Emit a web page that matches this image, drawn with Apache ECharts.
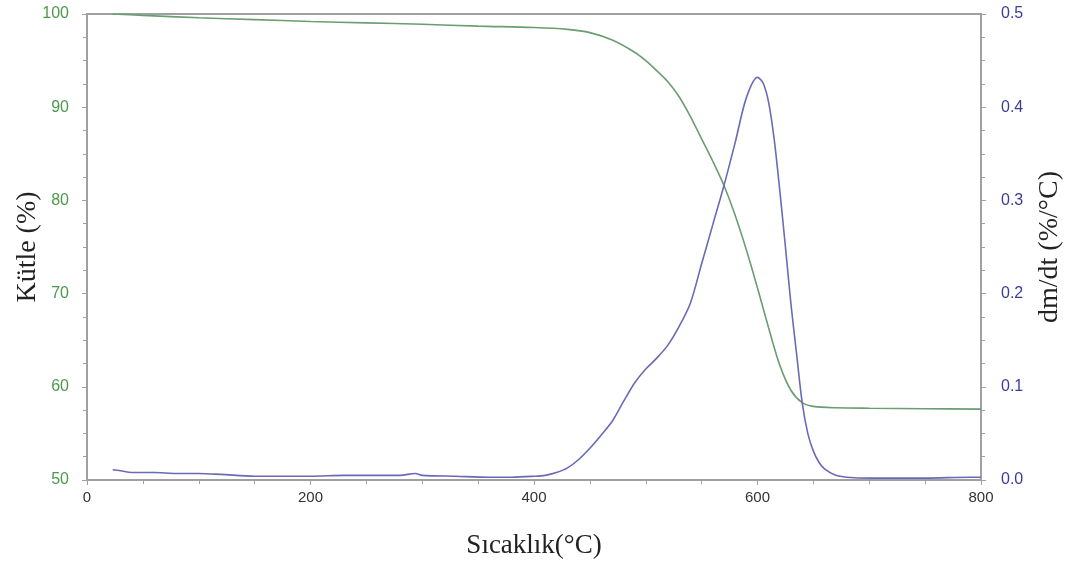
<!DOCTYPE html>
<html>
<head>
<meta charset="utf-8">
<script src="https://cdn.jsdelivr.net/npm/echarts@6/dist/echarts.min.js"></script>
<style>html,body{margin:0;padding:0;background:#fff}#c{width:1075px;height:562px}</style>
</head>
<body>
<div id="c"></div>
<script>
// Temperature (°C) and mass (%) for the TG curve
const massT = [23,50,100,150,200,250,300,350,400,430,450,470,490,500,510,520,530,540,550,560,570,580,590,600,610,620,630,640,650,670,700,750,800];
const massV = [100.0,99.85,99.6,99.4,99.2,99.05,98.9,98.7,98.55,98.35,98.0,97.2,95.9,95.0,93.9,92.7,91.1,89.0,86.6,84.2,81.6,78.4,74.7,70.6,66.3,62.3,59.6,58.3,57.9,57.75,57.7,57.65,57.6];
// Temperature (°C) and dm/dt (%/°C) for the DTG curve
const dtgT = [23,30,40,60,80,100,120,150,180,200,230,260,280,294,300,330,360,380,400,410,420,430,440,450,460,470,480,490,500,510,520,530,540,550,560,570,580,590,600,605,610,615,620,625,630,635,640,645,650,655,660,670,680,700,750,790,800];
const dtgV = [0.011,0.010,0.008,0.008,0.007,0.007,0.006,0.004,0.004,0.004,0.005,0.005,0.005,0.007,0.005,0.004,0.003,0.003,0.004,0.005,0.008,0.013,0.022,0.034,0.048,0.063,0.084,0.104,0.119,0.131,0.145,0.165,0.19,0.232,0.274,0.316,0.362,0.41,0.432,0.426,0.405,0.365,0.31,0.25,0.188,0.135,0.083,0.05,0.031,0.019,0.012,0.005,0.003,0.002,0.002,0.003,0.003];

const xLabel = 'Sıcaklık(°C)';
const yLeftLabel = 'Kütle (%)';
const yRightLabel = 'dm/dt (%/°C)';

const axisGray = '#a0a0a0';
const chart = echarts.init(document.getElementById('c'), null, {renderer: 'canvas'});
chart.setOption({
  animation: false,
  backgroundColor: '#fff',
  grid: {left: 87, right: 94, top: 14, bottom: 82, outerBoundsMode: 'none', containLabel: false,
    show: true, borderColor: axisGray, borderWidth: 2, backgroundColor: 'transparent'},
  xAxis: {
    type: 'value', min: 0, max: 800, interval: 200,
    name: xLabel, nameLocation: 'middle', nameGap: 52,
    nameTextStyle: {fontFamily: 'Liberation Serif', fontSize: 27, color: '#222'},
    axisLine: {lineStyle: {color: axisGray, width: 2}},
    axisTick: {show: true, length: 5, lineStyle: {color: axisGray}},
    minorTick: {show: true, splitNumber: 4, length: 4, lineStyle: {color: axisGray}},
    axisLabel: {fontFamily: 'Liberation Sans', fontSize: 15, color: '#333', margin: 10},
    splitLine: {show: false}
  },
  yAxis: [{
    type: 'value', min: 50, max: 100, interval: 10, position: 'left',
    name: yLeftLabel, nameLocation: 'middle', nameGap: 45, nameRotate: 90, nameMoveOverlap: false,
    nameTextStyle: {fontFamily: 'Liberation Serif', fontSize: 28, color: '#222'},
    axisLine: {show: true, lineStyle: {color: axisGray, width: 2}},
    axisTick: {show: true, length: 5, lineStyle: {color: axisGray}},
    minorTick: {show: true, splitNumber: 4, length: 4, lineStyle: {color: axisGray}},
    axisLabel: {fontFamily: 'Liberation Sans', fontSize: 16, color: '#4a9a4a', margin: 18},
    splitLine: {show: false}
  }, {
    type: 'value', min: 0, max: 0.5, interval: 0.1, position: 'right',
    name: yRightLabel, nameLocation: 'middle', nameGap: 55, nameRotate: 90,
    nameTextStyle: {fontFamily: 'Liberation Serif', fontSize: 28, color: '#222'},
    axisLine: {show: true, lineStyle: {color: axisGray, width: 2}},
    axisTick: {show: true, length: 5, lineStyle: {color: axisGray}},
    minorTick: {show: true, splitNumber: 4, length: 4, lineStyle: {color: axisGray}},
    axisLabel: {fontFamily: 'Liberation Sans', fontSize: 16, color: '#3c3c9c', margin: 20,
      formatter: v => v.toFixed(1)},
    splitLine: {show: false}
  }],
  series: [{
    type: 'line', yAxisIndex: 0, showSymbol: false, smooth: 0.3,
    data: massT.map((t, i) => [t, massV[i]]),
    lineStyle: {color: '#6a9e70', width: 1.6}
  }, {
    type: 'line', yAxisIndex: 1, showSymbol: false, smooth: 0.3,
    data: dtgT.map((t, i) => [t, dtgV[i]]),
    lineStyle: {color: '#6a6ab6', width: 1.6}
  }]
});
</script>
</body>
</html>
